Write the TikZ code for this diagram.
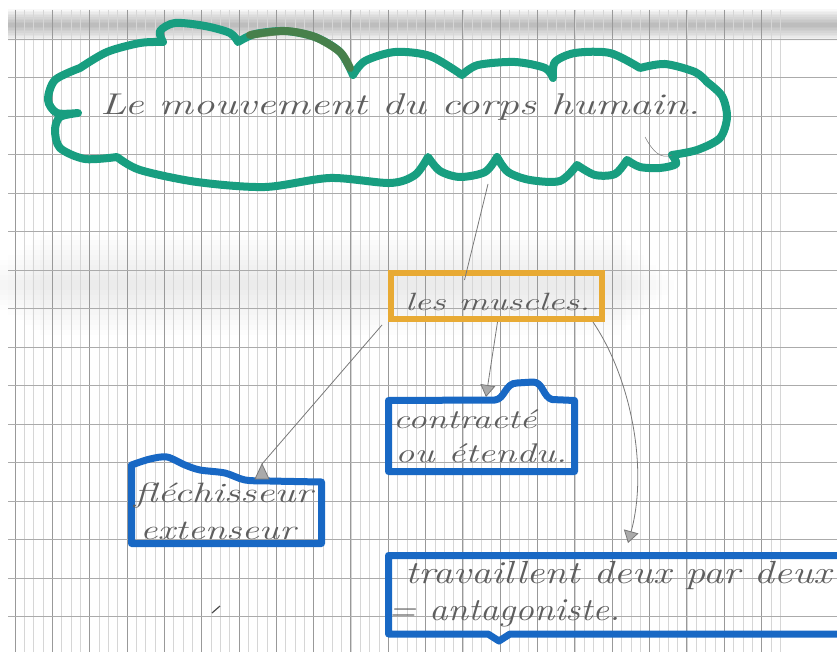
\documentclass[tikz,border=0pt]{standalone}
\usepackage{graphicx}
\usetikzlibrary{arrows.meta}

\definecolor{cloudgreen}{RGB}{24,158,128}
\definecolor{cloudolive}{RGB}{88,118,58}
\definecolor{boxochre}{RGB}{232,170,52}
\definecolor{boxblue}{RGB}{24,104,196}
\definecolor{penciltext}{RGB}{95,95,95}
\definecolor{pencilgray}{RGB}{120,120,120}
\definecolor{arrowfill}{RGB}{170,170,170}

% handwritten-looking line: fixed width, natural height
\newcommand{\hwtext}[3]{\resizebox{#1}{\height}{\fontsize{#2}{#2}\selectfont\itshape #3}}

\tikzset{
  hw/.style={anchor=base west, inner sep=0pt, text=penciltext},
  pencilline/.style={draw=pencilgray, line width=0.8pt},
  headtip/.style={-{Triangle[length=12pt,width=15pt,fill=arrowfill]}},
  cloudline/.style={draw=cloudgreen, line width=8pt, line join=round, line cap=round},
  blueframe/.style={draw=boxblue, line width=7pt, line join=round, line cap=round},
  anchorbox/.style={rectangle, inner sep=0pt, draw=none},
  gridfine/.style={draw=black!16, line width=0.45pt},
  gridmain/.style={draw=black!40, line width=0.8pt},
  gridrow/.style={draw=black!33, line width=0.8pt},
}

\begin{document}
\begin{tikzpicture}[x=1pt,y=-1pt]
\useasboundingbox (0,0) rectangle (837,652);
\clip (0,0) rectangle (837,652);
\fill[white] (0,0) rectangle (837,652);

% scanner shadows on the paper
\foreach \k in {1,...,10}
  \fill[black, opacity=0.028] (8,{25-1.6*\k}) rectangle (837,{25+1.6*\k});
\foreach \k in {1,...,10}
  \fill[black, opacity=0.007] ({8*\k-40},{285-5*\k}) rectangle ({680-6*\k},{285+5*\k});

% squared exercise-book ruling
\foreach \i in {0,...,82}
  \draw[gridfine] ({15+9.33*\i},10) -- ({15+9.33*\i},652);
\foreach \i in {0,...,20}
  \draw[gridmain] ({15+37.32*\i},10) -- ({15+37.32*\i},652);
\foreach \j in {0,...,15}
  \draw[gridrow] (8,{39+38.5*\j}) -- (837,{39+38.5*\j});

% the cloud round the title
\draw[cloudline]
  plot[smooth] coordinates {(80,68) (107,52) (140,43) (163,42)}
  -- plot[smooth] coordinates {(163,42) (160,31) (175,23) (205,26) (230,33) (238,42)}
  -- plot[smooth] coordinates {(238,42) (255,34) (285,31) (315,37) (340,52) (353,75)}
  -- plot[smooth] coordinates {(353,75) (365,61) (395,52) (430,56) (462,75)}
  -- plot[smooth] coordinates {(462,75) (478,65) (515,62) (545,68) (553,78)}
  -- plot[smooth] coordinates {(553,78) (555,62) (575,53) (610,53) (640,68)}
  -- plot[smooth] coordinates {(640,68) (665,64) (695,72) (707,82)}
  -- plot[smooth] coordinates {(707,82) (722,96) (727,117) (720,138) (697,150) (672,155)}
  -- plot[smooth] coordinates {(672,155) (676,164) (660,168) (640,167) (627,160)}
  -- plot[smooth] coordinates {(627,160) (615,174) (595,175) (577,165)}
  -- plot[smooth] coordinates {(577,165) (560,181) (530,180) (508,172) (497,157)}
  -- plot[smooth] coordinates {(497,157) (485,172) (460,177) (440,171) (428,157)}
  -- plot[smooth] coordinates {(428,157) (415,175) (390,183) (330,178) (265,187) (197,182) (140,170) (117,157)}
  -- plot[smooth] coordinates {(117,157) (85,159) (60,148) (55,130) (60,117) (78,113)}
  -- plot[smooth] coordinates {(78,113) (57,113) (48,100) (55,80) (80,68)};
\draw[cloudline, draw=cloudolive, draw opacity=0.75]
  plot[smooth] coordinates {(250,35) (285,31) (315,37) (340,52) (350,68)};
\draw[pencilline, line width=0.5pt] (645,137) .. controls (652,150) and (660,160) .. (672,155);

\node[hw] (title) at (100,115) {\hwtext{600pt}{30}{Le mouvement du corps humain.}};

% les muscles
\node[anchorbox, draw=boxochre, line width=6pt, minimum width=211pt, minimum height=46pt]
  (muscles) at (496.5,296) {};
\node[hw] (musclestxt) at (405,310) {\hwtext{185pt}{25}{les muscles.}};

% contracte ou etendu
\node[anchorbox, minimum width=186pt, minimum height=71pt] (contracte) at (481.5,436) {};
\draw[blueframe] (388.5,400.5) -- (495,400) .. controls (505,399) and (505,383) .. (517,383)
  -- (533,382) .. controls (543,382) and (543,397) .. (552,399.5) -- (574.5,400.5)
  -- (574.5,471.5) -- (388.5,471.5) -- cycle;
\node[hw] (contracte1) at (393,428) {\hwtext{143pt}{27}{contract\'e}};
\node[hw] (contracte2) at (395,462) {\hwtext{172pt}{27}{ou \'etendu.}};

% flechisseur extenseur
\node[anchorbox, minimum width=190pt, minimum height=75pt] (flechi) at (226.5,507) {};
\draw[blueframe] plot[smooth] coordinates {(131.5,465) (150,459) (167,457) (185,465) (200,470) (225,473) (245,480) (270,481) (321.5,482)}
  -- (321.5,543.5) -- (131.5,543.5) -- cycle;
\node[hw] (flechi1) at (134,502) {\hwtext{178pt}{28}{fl\'echisseur}};
\node[hw] (flechi2) at (140,539) {\hwtext{155pt}{28}{extenseur}};

% travaillent deux par deux
\node[anchorbox, minimum width=460pt, minimum height=78pt] (travail) at (618.5,594.5) {};
\draw[blueframe] (850,555.5) -- (388.5,555.5) -- (388.5,634) -- (488,634) -- (499,641)
  -- (510,634) -- (850,634);
\node[hw] (travail1) at (405,583) {\hwtext{426pt}{32}{travaillent deux par deux}};
\node[hw] (travail2) at (388,620) {\hwtext{232pt}{32}{= antagoniste.}};

% pencil connectors
\coordinate (cloudFoot) at (488,184);
\coordinate (musclesIn) at ([xshift=-32pt,yshift=-10pt]muscles.north);
\coordinate (contracteTip) at (486,397);
\coordinate (flechiTip) at (262,464);
\coordinate (travailTip) at (628,543);

\draw[pencilline] (cloudFoot) -- (musclesIn);
\draw[pencilline, headtip] ([xshift=1pt]muscles.south) -- (contracteTip);
\draw[pencilline] ([xshift=-6pt,yshift=-3pt]muscles.south west) -- (flechiTip);
\filldraw[pencilline, fill=arrowfill] (flechiTip) -- ++(-7,15) -- ++(14,0) -- cycle;
\draw[pencilline, headtip] ([xshift=-12pt]muscles.south east)
  .. controls (632,380) and (648,470) .. (travailTip);

\draw[pencilline, line width=1.2pt, draw=black!70] (212,613) -- (220,606);
\end{tikzpicture}
\end{document}
